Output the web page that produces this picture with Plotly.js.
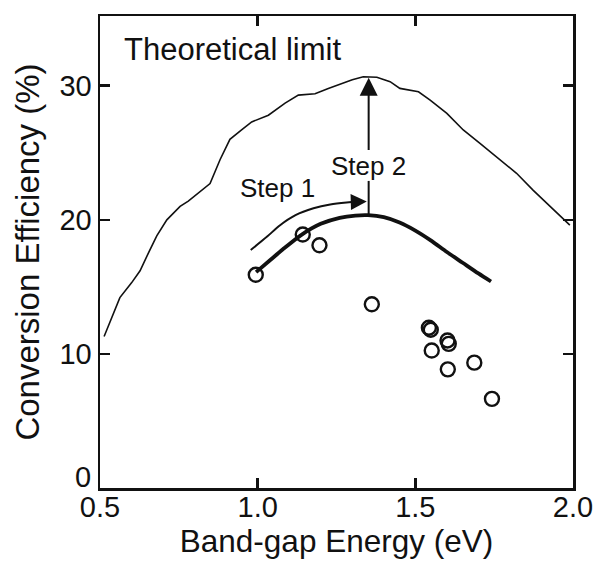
<!DOCTYPE html>
<html>
<head>
<meta charset="utf-8">
<script src="https://cdn.plot.ly/plotly-3.0.1.min.js"></script>
<style>html,body{margin:0;padding:0;background:#fff;}#chart{width:594px;height:562px;}</style>
</head>
<body>
<div id="chart"></div>
<script>
// Measured cells: band-gap energy (eV) and conversion efficiency (%)
const cellBandGap    = [0.994, 1.143, 1.196, 1.362, 1.543, 1.549, 1.602, 1.606, 1.552, 1.603, 1.687, 1.743];
const cellEfficiency = [15.9, 18.9, 18.1, 13.7, 11.95, 11.8, 11.0, 10.75, 10.25, 8.85, 9.35, 6.65];

// Theoretical limit curve
const limitX = [0.513, 0.54, 0.563, 0.60, 0.627, 0.653, 0.68, 0.712, 0.754, 0.78, 0.812, 0.849, 0.881, 0.912, 0.949, 0.981, 1.034, 1.087, 1.129, 1.182, 1.224, 1.272, 1.30, 1.335, 1.378, 1.42, 1.451, 1.51, 1.547, 1.60, 1.652, 1.705, 1.758, 1.821, 1.874, 1.927, 1.99];
const limitY = [11.3, 12.9, 14.2, 15.3, 16.2, 17.5, 18.8, 20.0, 21.0, 21.4, 22.0, 22.7, 24.5, 26.0, 26.7, 27.3, 27.8, 28.7, 29.3, 29.4, 29.8, 30.2, 30.45, 30.67, 30.63, 30.3, 29.8, 29.55, 28.93, 27.94, 26.7, 25.7, 24.7, 23.47, 22.2, 20.98, 19.6];

// Fitted practical curve (thick)
const fitX = [0.995, 1.04, 1.08, 1.14, 1.20, 1.26, 1.31, 1.35, 1.40, 1.45, 1.50, 1.55, 1.60, 1.65, 1.70, 1.74];
const fitY = [16.1, 17.0, 17.8, 18.9, 19.7, 20.15, 20.32, 20.35, 20.2, 19.8, 19.2, 18.45, 17.6, 16.8, 16.0, 15.4];

// Step 1 arrow path
const step1X = [0.978, 1.03, 1.071, 1.12, 1.177, 1.23, 1.282, 1.30];
const step1Y = [17.75, 18.75, 19.6, 20.35, 20.86, 21.15, 21.3, 21.33];
const step1Tip = [1.346, 21.36];

// Step 2: lower tick segment and upper arrow
const step2LineX = [1.352, 1.352];
const step2LineY = [20.35, 22.9];
const step2ArrowFrom = [1.352, 25.1];
const step2ArrowTip  = [1.352, 30.6];

// Axis ticks
const xTickVals = [0.5, 1.0, 1.5, 2.0];
const xTickText = ['0.5', '1.0', '1.5', '2.0'];
const yTickVals = [0, 10, 20, 30];
const yTickText = ['', '10', '20', '30'];

const ink = '#111';
const FONT = 'Liberation Sans, Arial, Helvetica, sans-serif';

const traces = [
  {x: limitX, y: limitY, mode: 'lines', line: {color: ink, width: 1.6}, hoverinfo: 'skip'},
  {x: fitX, y: fitY, mode: 'lines', line: {color: ink, width: 3.8, shape: 'spline', smoothing: 0.8}, hoverinfo: 'skip'},
  {x: step1X, y: step1Y, mode: 'lines', line: {color: ink, width: 2, shape: 'spline', smoothing: 0.8}, hoverinfo: 'skip'},
  {x: step2LineX, y: step2LineY, mode: 'lines', line: {color: ink, width: 2}, hoverinfo: 'skip'},
  {x: cellBandGap, y: cellEfficiency, mode: 'markers',
   marker: {symbol: 'circle-open', size: 14, color: ink, line: {width: 2.4, color: ink}}}
];

const layout = {
  width: 594, height: 562,
  margin: {l: 100, r: 21, t: 16, b: 74},
  paper_bgcolor: '#fff', plot_bgcolor: '#fff',
  showlegend: false,
  font: {family: FONT, color: ink},
  xaxis: {
    range: [0.5, 2.0], tickvals: xTickVals, ticktext: xTickText,
    ticks: 'inside', ticklen: 10, tickwidth: 2.5, tickcolor: ink,
    showline: true, linewidth: 2.5, linecolor: ink, mirror: 'ticks',
    showgrid: false, zeroline: false,
    tickfont: {size: 29, family: FONT, color: ink},
    ticklabelstandoff: -8,
    title: {text: 'Band-gap Energy (eV)', font: {size: 31.5, family: FONT, color: ink}, standoff: 4},
    automargin: false
  },
  yaxis: {
    range: [0, 35.2], tickvals: yTickVals, ticktext: yTickText,
    ticks: 'inside', ticklen: 10, tickwidth: 2.5, tickcolor: ink,
    showline: true, linewidth: 2.5, linecolor: ink, mirror: 'ticks',
    showgrid: false, zeroline: false,
    tickfont: {size: 29, family: FONT, color: ink},
    title: {text: 'Conversion Efficiency (%)', font: {size: 33, family: FONT, color: ink}, standoff: 10},
    automargin: false
  },
  annotations: [
    {x: step1Tip[0], y: step1Tip[1], ax: step1X[step1X.length - 1], ay: step1Y[step1Y.length - 1],
     xref: 'x', yref: 'y', axref: 'x', ayref: 'y', text: '', showarrow: true,
     arrowhead: 2, arrowsize: 1.6, arrowwidth: 2, arrowcolor: ink},
    {x: step2ArrowTip[0], y: step2ArrowTip[1], ax: step2ArrowFrom[0], ay: step2ArrowFrom[1],
     xref: 'x', yref: 'y', axref: 'x', ayref: 'y', text: '', showarrow: true,
     arrowhead: 2, arrowsize: 1.8, arrowwidth: 2, arrowcolor: ink},
    {x: 0.57, y: 32.7, xref: 'x', yref: 'y', text: 'Theoretical limit', showarrow: false,
     xanchor: 'left', yanchor: 'middle', font: {size: 31, family: FONT, color: ink}},
    {x: 1.063, y: 22.4, xref: 'x', yref: 'y', text: 'Step 1', showarrow: false,
     xanchor: 'center', yanchor: 'middle', font: {size: 26, family: FONT, color: ink}},
    {x: 1.352, y: 24.0, xref: 'x', yref: 'y', text: 'Step 2', showarrow: false,
     xanchor: 'center', yanchor: 'middle', font: {size: 26, family: FONT, color: ink}},
    {x: 0, y: 0.85, xref: 'paper', yref: 'y', xshift: -7, text: '0', showarrow: false,
     xanchor: 'right', yanchor: 'middle', font: {size: 29, family: FONT, color: ink}}
  ]
};

Plotly.newPlot('chart', traces, layout, {staticPlot: true, displayModeBar: false});
</script>
</body>
</html>
